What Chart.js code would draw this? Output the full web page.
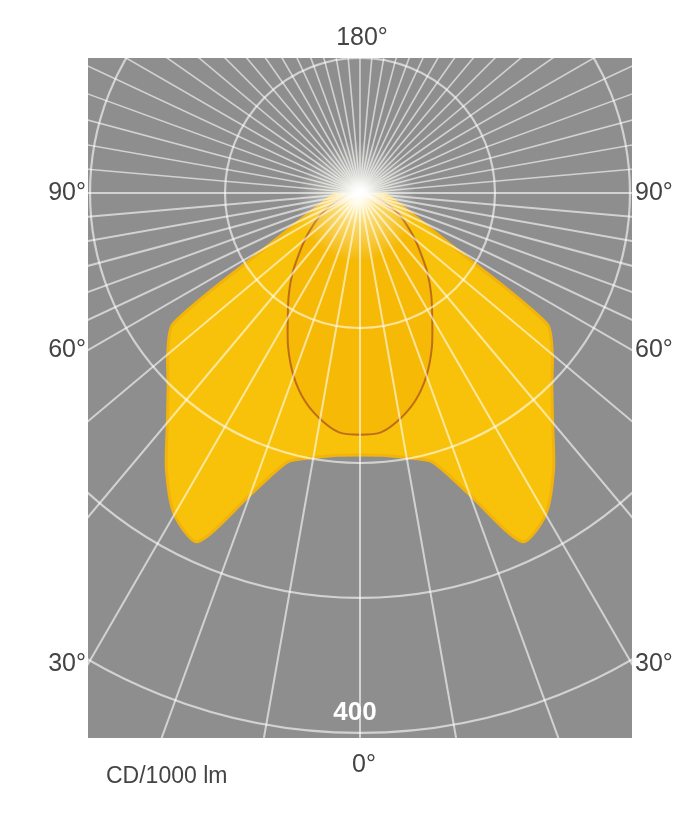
<!DOCTYPE html>
<html>
<head>
<meta charset="utf-8">
<script src="https://cdn.jsdelivr.net/npm/chart.js@4.4.1/dist/chart.umd.min.js"></script>
<style>
  body { margin: 0; background: #fff; }
  #wrap { width: 697px; height: 816px; }
</style>
</head>
<body>
<div id="wrap"><canvas id="polar" width="697" height="816"></canvas></div>
<script>
// angle from nadir in degrees (0 = straight down), one half of the symmetric curve
const angles = [0, 5, 10, 15, 20, 25, 30, 35, 40, 45, 50, 55, 60, 65, 70, 75, 80, 85, 90];
// cd/1000 lm, wide batwing plane
const intensityWide = [194, 195, 199, 206, 238, 285, 275, 250, 222, 201, 186, 169, 80, 51, 37, 29, 24, 20, 18];
// cd/1000 lm, narrow plane (outlined curve)
const intensityNarrow = [179, 178, 170, 159, 144, 126, 107, 92, 78, 64, 53, 43, 35, 27, 19, 13, 10, 8, 6];
// rings of the polar grid
const rings = [100, 200, 300, 400];
const ringLabel = "400";
const sideLabels = [90, 60, 30];
const unitLabel = "CD/1000 lm";

const rad = (d) => d * Math.PI / 180;

// turn one half curve into a closed mirrored outline in x/y (cd units)
const toShape = (values) => {
	const pts = [];
	for (let i = angles.length - 1; i >= 0; i--) {
		pts.push({ x: values[i] * Math.sin(rad(angles[i])), y: -values[i] * Math.cos(rad(angles[i])) });
	}
	for (let i = 1; i < angles.length; i++) {
		pts.push({ x: -values[i] * Math.sin(rad(angles[i])), y: -values[i] * Math.cos(rad(angles[i])) });
	}
	return pts;
};

const backgroundPlugin = {
	id: "bg",
	beforeDatasetsDraw(chart) {
		const { ctx, chartArea: a } = chart;
		ctx.save();
		ctx.fillStyle = "#8e8e8e";
		ctx.fillRect(a.left, a.top, a.right - a.left, a.bottom - a.top);
		ctx.restore();
	},
};

const gridPlugin = {
	id: "polarGrid",
	afterDatasetsDraw(chart) {
		const { ctx, chartArea: a } = chart;
		const xs = chart.scales.x;
		const ys = chart.scales.y;
		const cx = xs.getPixelForValue(0);
		const cy = ys.getPixelForValue(0);
		ctx.save();
		ctx.beginPath();
		ctx.rect(a.left, a.top, a.right - a.left, a.bottom - a.top);
		ctx.clip();

		// glow at the lamp
		const g = ctx.createRadialGradient(cx - 3, cy + 8, 0, cx - 3, cy + 8, 60);
		g.addColorStop(0, "rgba(255,255,235,0.95)");
		g.addColorStop(0.4, "rgba(255,255,230,0.45)");
		g.addColorStop(1, "rgba(255,255,255,0)");
		ctx.fillStyle = g;
		ctx.fillRect(cx - 70, cy - 70, 140, 140);

		ctx.strokeStyle = "rgba(255,255,255,0.6)";
		ctx.lineWidth = 2.2;
		rings.forEach((v) => {
			const r = xs.getPixelForValue(v) - cx;
			ctx.beginPath();
			ctx.arc(cx, cy, r, 0, Math.PI * 2);
			ctx.stroke();
		});
		const far = xs.getPixelForValue(1000) - cx;
		for (let d = 0; d < 360; d += 5) {
			const fromNadir = Math.min(d, 360 - d);
			if (d % 10 !== 0 && fromNadir < 60) continue;
			ctx.beginPath();
			ctx.moveTo(cx, cy);
			ctx.lineTo(cx + far * Math.sin(rad(d)), cy + far * Math.cos(rad(d)));
			ctx.lineWidth = fromNadir > 90 ? 1.6 : 2;
			ctx.stroke();
		}
		ctx.restore();
	},
};

const labelPlugin = {
	id: "labels",
	afterDraw(chart) {
		const { ctx, chartArea: a } = chart;
		const xs = chart.scales.x;
		const ys = chart.scales.y;
		const cx = xs.getPixelForValue(0);
		const cy = ys.getPixelForValue(0);
		ctx.save();
		ctx.fillStyle = "#444";
		ctx.font = "25px 'Liberation Sans', Arial, sans-serif";
		ctx.textBaseline = "middle";
		ctx.textAlign = "center";
		ctx.fillText("180°", cx + 2, a.top - 20);
		ctx.fillText("0°", cx + 4, a.bottom + 27);
		sideLabels.forEach((deg) => {
			const half = a.right - cx;
			const y = deg === 90 ? cy : cy + half / Math.tan(rad(deg));
			ctx.textAlign = "right";
			ctx.fillText(deg + "°", a.left - 2, y);
			ctx.textAlign = "left";
			ctx.fillText(deg + "°", a.right + 3, y);
		});
		// ring value on the outer circle
		const rOuter = ys.getPixelForValue(-rings[rings.length - 1]);
		ctx.fillStyle = "#ffffff";
		ctx.font = "bold 26px 'Liberation Sans', Arial, sans-serif";
		ctx.textAlign = "center";
		ctx.fillText(ringLabel, cx - 5, rOuter - 20);
		ctx.fillStyle = "#444";
		ctx.font = "23px 'Liberation Sans', Arial, sans-serif";
		ctx.textAlign = "left";
		ctx.fillText(unitLabel, 106, a.bottom + 39);
		ctx.restore();
	},
};

new Chart(document.getElementById("polar"), {
	type: "scatter",
	data: {
		datasets: [
			{
				label: "C0-C180",
				data: toShape(intensityNarrow),
				showLine: true,
				fill: "shape",
				backgroundColor: "rgba(240,165,0,0.3)",
				borderColor: "rgb(190,110,25)",
				borderWidth: 2,
				pointRadius: 0,
				tension: 0.3,
				order: 0,
			},
			{
				label: "C90-C270",
				data: toShape(intensityWide),
				showLine: true,
				fill: "shape",
				backgroundColor: "rgb(248,194,10)",
				borderColor: "rgb(242,180,12)",
				borderWidth: 3,
				pointRadius: 0,
				tension: 0.25,
				order: 1,
			},
		],
	},
	options: {
		responsive: false,
		animation: false,
		layout: { padding: { left: 88, right: 65, top: 58, bottom: 78 } },
		scales: {
			x: { type: "linear", min: -201.5, max: 201.5, display: false },
			y: { type: "linear", min: -403.7, max: 100, display: false },
		},
		plugins: {
			legend: { display: false },
			tooltip: { enabled: false },
		},
	},
	plugins: [backgroundPlugin, gridPlugin, labelPlugin],
});
</script>
</body>
</html>
